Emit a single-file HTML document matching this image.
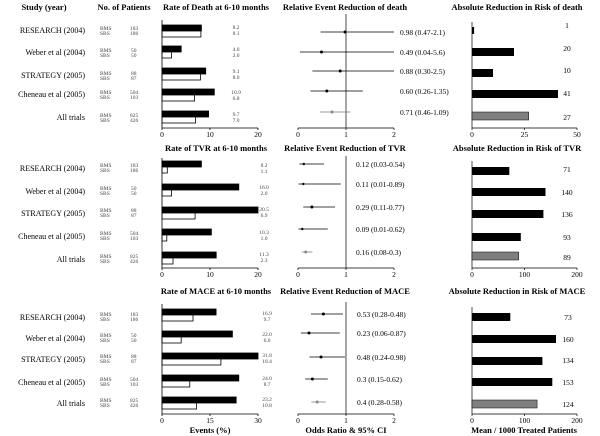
<!DOCTYPE html>
<html><head><meta charset="utf-8"><style>
html,body{margin:0;padding:0;background:#fff;}
svg{display:block;font-family:"Liberation Serif",serif;}
.h{font-size:8.5px;font-weight:bold;text-anchor:middle}
.s{font-size:8px;text-anchor:end}
.n{font-size:5.5px;fill:#444}
.t{font-size:7.5px;text-anchor:middle}
.f{font-size:7.5px}
.a{font-size:8.5px;text-anchor:middle}
</style></head><body>
<svg width="600" height="436" viewBox="0 0 600 436">
<rect width="600" height="436" fill="#fff"/>
<!-- headers -->
<text class="h" x="44" y="10">Study (year)</text>
<text class="h" x="124" y="10">No. of Patients</text>
<text class="h" x="216" y="10">Rate of Death at 6-10 months</text>
<text class="h" x="345" y="10">Relative Event Reduction of death</text>
<text class="h" x="517" y="10">Absolute Reduction in Risk of death</text>
<text class="h" x="216" y="151">Rate of TVR at 6-10 months</text>
<text class="h" x="345" y="151">Relative Event Reduction of TVR</text>
<text class="h" x="517" y="151">Absolute Reduction in Risk of TVR</text>
<text class="h" x="216" y="294">Rate of MACE at 6-10 months</text>
<text class="h" x="345" y="294">Relative Event Reduction of MACE</text>
<text class="h" x="517" y="294">Absolute Reduction in Risk of MACE</text>

<!-- study labels -->
<g class="s">
<text x="85" y="33">RESEARCH (2004)</text><text x="85" y="55">Weber et al (2004)</text><text x="85" y="78">STRATEGY (2005)</text><text x="85" y="97">Cheneau et al (2005)</text><text x="85" y="120">All trials</text>
<text x="85" y="171">RESEARCH (2004)</text><text x="85" y="194">Weber et al (2004)</text><text x="85" y="216">STRATEGY (2005)</text><text x="85" y="239">Cheneau et al (2005)</text><text x="85" y="262">All trials</text>
<text x="85" y="320">RESEARCH (2004)</text><text x="85" y="341">Weber et al (2004)</text><text x="85" y="362">STRATEGY (2005)</text><text x="85" y="385">Cheneau et al (2005)</text><text x="85" y="406">All trials</text>
</g>
<!-- patient numbers -->
<g class="n">
<g transform="translate(0,30)"><text x="100" y="0">BMS</text><text x="100" y="5">SBS</text><text x="130" y="0">183</text><text x="130" y="5">186</text></g>
<g transform="translate(0,52)"><text x="100" y="0">BMS</text><text x="100" y="5">SBS</text><text x="131" y="0">50</text><text x="131" y="5">50</text></g>
<g transform="translate(0,75)"><text x="100" y="0">BMS</text><text x="100" y="5">SBS</text><text x="131" y="0">88</text><text x="131" y="5">87</text></g>
<g transform="translate(0,94)"><text x="100" y="0">BMS</text><text x="100" y="5">SBS</text><text x="130" y="0">504</text><text x="130" y="5">103</text></g>
<g transform="translate(0,117)"><text x="100" y="0">BMS</text><text x="100" y="5">SBS</text><text x="130" y="0">825</text><text x="130" y="5">426</text></g>
<g transform="translate(0,167)"><text x="100" y="0">BMS</text><text x="100" y="5">SBS</text><text x="130" y="0">183</text><text x="130" y="5">186</text></g>
<g transform="translate(0,190)"><text x="100" y="0">BMS</text><text x="100" y="5">SBS</text><text x="131" y="0">50</text><text x="131" y="5">50</text></g>
<g transform="translate(0,212)"><text x="100" y="0">BMS</text><text x="100" y="5">SBS</text><text x="131" y="0">88</text><text x="131" y="5">87</text></g>
<g transform="translate(0,235)"><text x="100" y="0">BMS</text><text x="100" y="5">SBS</text><text x="130" y="0">504</text><text x="130" y="5">103</text></g>
<g transform="translate(0,258)"><text x="100" y="0">BMS</text><text x="100" y="5">SBS</text><text x="130" y="0">825</text><text x="130" y="5">426</text></g>
<g transform="translate(0,316)"><text x="100" y="0">BMS</text><text x="100" y="5">SBS</text><text x="130" y="0">183</text><text x="130" y="5">186</text></g>
<g transform="translate(0,337)"><text x="100" y="0">BMS</text><text x="100" y="5">SBS</text><text x="131" y="0">50</text><text x="131" y="5">50</text></g>
<g transform="translate(0,358)"><text x="100" y="0">BMS</text><text x="100" y="5">SBS</text><text x="131" y="0">88</text><text x="131" y="5">87</text></g>
<g transform="translate(0,381)"><text x="100" y="0">BMS</text><text x="100" y="5">SBS</text><text x="130" y="0">504</text><text x="130" y="5">103</text></g>
<g transform="translate(0,402)"><text x="100" y="0">BMS</text><text x="100" y="5">SBS</text><text x="130" y="0">825</text><text x="130" y="5">426</text></g>
</g>

<!-- ===== Rate bars ===== -->
<g stroke="#000" stroke-width="0.8">
<!-- death -->
<rect x="162" y="25" width="39.4" height="6" fill="#000"/><rect x="162" y="31" width="38.9" height="6" fill="#fff"/>
<rect x="162" y="46" width="19.2" height="6" fill="#000"/><rect x="162" y="52" width="9.6" height="6" fill="#fff"/>
<rect x="162" y="68" width="43.7" height="6" fill="#000"/><rect x="162" y="74" width="38.4" height="6" fill="#fff"/>
<rect x="162" y="89" width="52.3" height="6" fill="#000"/><rect x="162" y="95" width="32.6" height="6" fill="#fff"/>
<rect x="162" y="111" width="46.6" height="6" fill="#000"/><rect x="162" y="117" width="33.6" height="6" fill="#fff"/>
<!-- TVR -->
<rect x="162" y="161" width="39.4" height="6" fill="#000"/><rect x="162" y="167" width="5.3" height="6" fill="#fff"/>
<rect x="162" y="184" width="76.8" height="6" fill="#000"/><rect x="162" y="190" width="9.6" height="6" fill="#fff"/>
<rect x="162" y="207" width="96" height="6" fill="#000"/><rect x="162" y="213" width="33.1" height="6" fill="#fff"/>
<rect x="162" y="229" width="49.4" height="6" fill="#000"/><rect x="162" y="235" width="4.8" height="6" fill="#fff"/>
<rect x="162" y="252" width="54.2" height="6" fill="#000"/><rect x="162" y="258" width="11" height="6" fill="#fff"/>
<!-- MACE -->
<rect x="162" y="309" width="54.1" height="6" fill="#000"/><rect x="162" y="315" width="31" height="6" fill="#fff"/>
<rect x="162" y="331" width="70.4" height="6" fill="#000"/><rect x="162" y="337" width="19.2" height="6" fill="#fff"/>
<rect x="162" y="353" width="96" height="6" fill="#000"/><rect x="162" y="359" width="58.9" height="6" fill="#fff"/>
<rect x="162" y="375" width="76.8" height="6" fill="#000"/><rect x="162" y="381" width="27.8" height="6" fill="#fff"/>
<rect x="162" y="397" width="74.2" height="6" fill="#000"/><rect x="162" y="403" width="34.6" height="6" fill="#fff"/>
</g>
<g stroke="#000" stroke-width="0.8" fill="none">
<path d="M162 20V128H258M210 128v2M258 128v2M162 128v2"/>
<path d="M162 158V268H258M210 268v2M258 268v2M162 268v2"/>
<path d="M162 304V414H258M210 414v2M258 414v2M162 414v2"/>
</g>
<g class="t">
<text x="162" y="137">0</text><text x="210" y="137">10</text><text x="258" y="137">20</text>
<text x="162" y="277">0</text><text x="210" y="277">10</text><text x="258" y="277">20</text>
<text x="162" y="423">0</text><text x="210" y="423">15</text><text x="258" y="423">30</text>
</g>
<text class="a" x="210" y="433" font-weight="bold">Events (%)</text>
<g class="n" text-anchor="middle" font-size="6">
<text x="236" y="29">8.2</text><text x="236" y="35">8.1</text>
<text x="236" y="51">4.0</text><text x="236" y="57">2.0</text>
<text x="236" y="73">9.1</text><text x="236" y="79">8.0</text>
<text x="236" y="94">10.9</text><text x="236" y="100">6.8</text>
<text x="236" y="116">9.7</text><text x="236" y="122">7.0</text>
<text x="264" y="167">8.2</text><text x="264" y="173">1.1</text>
<text x="264" y="189">16.0</text><text x="264" y="195">2.0</text>
<text x="264" y="211">20.5</text><text x="264" y="217">6.9</text>
<text x="264" y="234">10.3</text><text x="264" y="240">1.0</text>
<text x="264" y="256">11.3</text><text x="264" y="262">2.3</text>
<text x="267" y="315">16.9</text><text x="267" y="321">9.7</text>
<text x="267" y="336">22.0</text><text x="267" y="342">6.0</text>
<text x="267" y="357">31.8</text><text x="267" y="363">18.4</text>
<text x="267" y="380">24.0</text><text x="267" y="386">8.7</text>
<text x="267" y="401">23.2</text><text x="267" y="407">10.8</text>
</g>

<!-- ===== Forest ===== -->
<g stroke="#000" stroke-width="0.7" fill="none">
<path d="M346 14V128M298 128H394M298 128v2M346 128v2M394 128v2"/>
<path d="M346 156V268M298 268H394M298 268v2M346 268v2M394 268v2"/>
<path d="M346 302V414M298 414H394M298 414v2M346 414v2M394 414v2"/>
<path d="M320.6 32H394M300 52H394M312.4 71H394M310.5 91H362.8"/>
<path d="M299.4 164H323.9M298.5 184H340.7M303.3 207H335M298.5 229H327.8"/>
<path d="M311 314H343M300.9 333H339.8M309.5 357H345M305.2 379H327.8"/>
</g>
<g stroke="#777" stroke-width="0.7"><path d="M320.1 112H350.3M301.8 252H312.4M311.4 402H325.8"/></g>
<g fill="#000">
<circle cx="345" cy="32" r="1.5"/><circle cx="321.5" cy="52" r="1.5"/><circle cx="340.2" cy="71" r="1.5"/><circle cx="326.8" cy="91" r="1.5"/>
<circle cx="303.8" cy="164" r="1.2"/><circle cx="303.3" cy="184" r="1.2"/><circle cx="311.9" cy="207" r="1.5"/><circle cx="302.3" cy="229" r="1.2"/>
<circle cx="323.4" cy="314" r="1.5"/><circle cx="309" cy="333" r="1.5"/><circle cx="321" cy="357" r="1.5"/><circle cx="312.4" cy="379" r="1.5"/>
</g>
<g fill="#888"><circle cx="332.1" cy="112" r="1.5"/><circle cx="305.7" cy="252" r="1.5"/><circle cx="317.2" cy="402" r="1.5"/></g>
<g class="f">
<text x="400" y="35">0.98 (0.47-2.1)</text><text x="400" y="55">0.49 (0.04-5.6)</text><text x="400" y="74">0.88 (0.30-2.5)</text><text x="400" y="94">0.60 (0.26-1.35)</text><text x="400" y="115">0.71 (0.46-1.09)</text>
<text x="356" y="167">0.12 (0.03-0.54)</text><text x="356" y="187">0.11 (0.01-0.89)</text><text x="356" y="210">0.29 (0.11-0.77)</text><text x="356" y="232">0.09 (0.01-0.62)</text><text x="356" y="255">0.16 (0.08-0.3)</text>
<text x="357" y="317">0.53 (0.28-0.48)</text><text x="357" y="336">0.23 (0.06-0.87)</text><text x="357" y="360">0.48 (0.24-0.98)</text><text x="357" y="382">0.3 (0.15-0.62)</text><text x="357" y="405">0.4 (0.28-0.58)</text>
</g>
<g class="t">
<text x="298" y="137">0</text><text x="346" y="137">1</text><text x="394" y="137">2</text>
<text x="298" y="277">0</text><text x="346" y="277">1</text><text x="394" y="277">2</text>
<text x="298" y="423">0</text><text x="346" y="423">1</text><text x="394" y="423">2</text>
</g>
<text class="a" x="346" y="433" font-weight="bold">Odds Ratio &amp; 95% CI</text>

<!-- ===== Absolute ===== -->
<g stroke="#000" stroke-width="0.7" fill="none">
<path d="M472 22V128H577M472 128v2M524.5 128v2M577 128v2"/>
<path d="M472 161V268H577M472 268v2M524.5 268v2M577 268v2"/>
<path d="M472 307V414H577M472 414v2M524.5 414v2M577 414v2"/>
</g>
<g fill="#000">
<rect x="472" y="27" width="2.1" height="7"/><rect x="472" y="48" width="42" height="8"/><rect x="472" y="69" width="21" height="8"/><rect x="472" y="90" width="86" height="8"/>
<rect x="472" y="167" width="37.3" height="8"/><rect x="472" y="188" width="73.5" height="8"/><rect x="472" y="210" width="71.4" height="8"/><rect x="472" y="233" width="48.8" height="8"/>
<rect x="472" y="313" width="38.3" height="8"/><rect x="472" y="335" width="84" height="8"/><rect x="472" y="357" width="70.4" height="8"/><rect x="472" y="378" width="80.3" height="8"/>
</g>
<g fill="#7f7f7f" stroke="#000" stroke-width="0.5">
<rect x="472" y="112" width="56.7" height="8"/><rect x="472" y="252" width="46.7" height="8"/><rect x="472" y="400" width="65.1" height="8"/>
</g>
<g class="t" font-size="8">
<text x="567" y="28">1</text><text x="567" y="51">20</text><text x="567" y="73">10</text><text x="567" y="96">41</text><text x="567" y="120">27</text>
<text x="567" y="172">71</text><text x="567" y="195">140</text><text x="567" y="217">136</text><text x="567" y="240">93</text><text x="567" y="260">89</text>
<text x="568" y="320">73</text><text x="568" y="342">160</text><text x="568" y="363">134</text><text x="568" y="385">153</text><text x="568" y="407">124</text>
</g>
<g class="t">
<text x="472" y="137">0</text><text x="524.5" y="137">25</text><text x="577" y="137">50</text>
<text x="472" y="277">0</text><text x="524.5" y="277">100</text><text x="577" y="277">200</text>
<text x="472" y="423">0</text><text x="524.5" y="423">100</text><text x="577" y="423">200</text>
</g>
<text class="a" x="524" y="433" font-weight="bold">Mean / 1000 Treated Patients</text>
</svg>
</body></html>
